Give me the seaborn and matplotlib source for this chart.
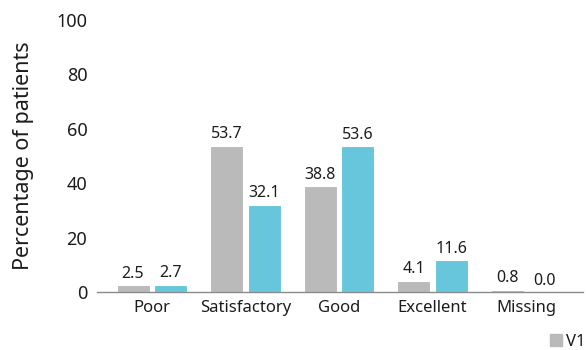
import matplotlib
matplotlib.use("Agg")
import matplotlib.pyplot as plt
import matplotlib.patches as mpatches
import seaborn as sns
import pandas as pd

categories = ["Poor", "Satisfactory", "Good", "Excellent", "Missing"]
series_names = ["V1", "V2"]
v1_values = [2.5, 53.7, 38.8, 4.1, 0.8]
v2_values = [2.7, 32.1, 53.6, 11.6, 0.0]
y_ticks = [0, 20, 40, 60, 80, 100]

colors = {"V1": "#bababa", "V2": "#67c6dc"}
text_color = "#1c1c1c"

df = pd.DataFrame({
    "category": categories * 2,
    "series": [series_names[0]] * len(categories) + [series_names[1]] * len(categories),
    "value": v1_values + v2_values,
})

sns.set_theme(style="white")
plt.rcParams["font.family"] = ["Noto Sans", "DejaVu Sans"]

fig = plt.figure(figsize=(5.87, 3.5), dpi=100)
ax = fig.add_axes([97 / 587, 1 - 292 / 350, (583 - 97) / 587, (292 - 19.7) / 350])

sns.barplot(
    data=df, x="category", y="value", hue="series",
    order=categories, hue_order=series_names, palette=colors,
    saturation=1, width=0.81, gap=0.13, edgecolor="white", linewidth=0.8,
    legend=False, ax=ax,
)

for container in ax.containers:
    ax.bar_label(container, fmt="%.1f", padding=2.5, fontsize=11.5, color=text_color)

ax.set_ylim(0, 100)
ax.set_xlim(-0.588, 4.61)
ax.set_yticks(y_ticks)
ax.set_yticklabels([str(t) for t in y_ticks])
ax.tick_params(axis="y", length=0, pad=7, labelsize=13, labelcolor=text_color)
ax.tick_params(axis="x", length=0, pad=6, labelsize=12, labelcolor=text_color)
ax.set_xlabel("")
ax.set_ylabel("Percentage of patients", fontsize=15.5, color=text_color, labelpad=16)

for side in ["top", "right", "left"]:
    ax.spines[side].set_visible(False)
ax.spines["bottom"].set_color("#8a8a8a")
ax.spines["bottom"].set_linewidth(1.0)

handles = [mpatches.Patch(color=colors["V1"], label="V1")]
fig.legend(
    handles=handles, loc="center right", bbox_to_anchor=(585 / 587, 1 - 342 / 350),
    frameon=False, fontsize=12, handlelength=0.75, handleheight=0.75,
    handletextpad=0.2, borderpad=0, borderaxespad=0,
    labelcolor=text_color,
)

fig.savefig("out.png", dpi=100)
